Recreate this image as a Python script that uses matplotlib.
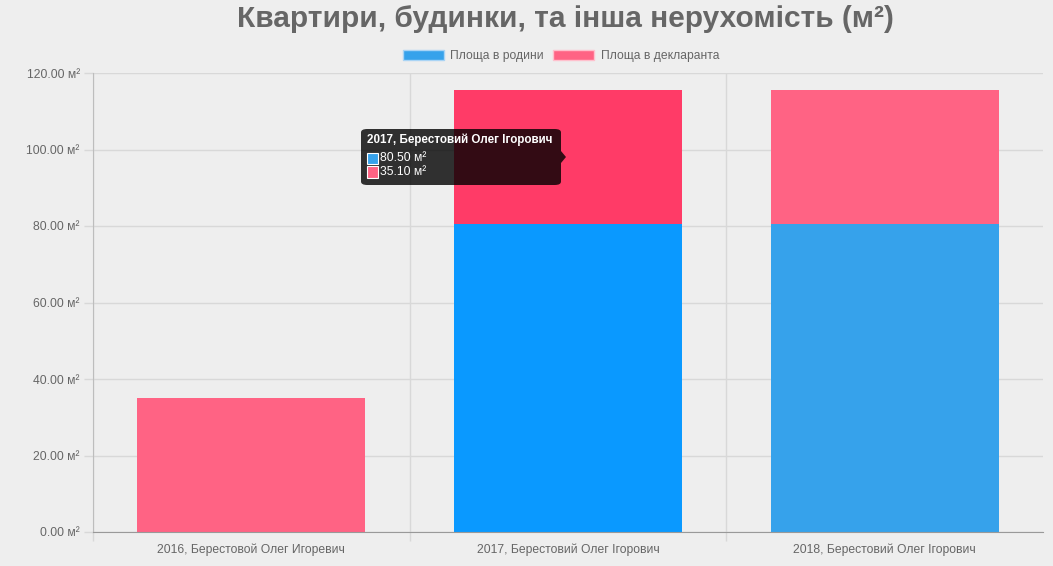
import matplotlib
matplotlib.use("Agg")
import matplotlib.pyplot as plt
from matplotlib.patches import Rectangle, FancyBboxPatch, Polygon

categories = ["2016, Берестовой Олег Игоревич",
              "2017, Берестовий Олег Ігорович",
              "2018, Берестовий Олег Ігорович"]
family_area = [0.0, 80.5, 80.5]
declarant_area = [35.1, 35.1, 35.1]
series_names = ["Площа в родини", "Площа в декларанта"]
y_ticks = [0, 20, 40, 60, 80, 100, 120]
title = "Квартири, будинки, та інша нерухомість (м²)"
hover_index = 1

BG = "#eeeeee"
BLUE = "#36a2eb"
PINK = "#ff6384"
BLUE_H = "#0a99ff"
PINK_H = "#ff3b67"
GRID = "#d8d8d8"
TXT = "#666666"

plt.rcParams['font.family'] = ['Liberation Sans', 'DejaVu Sans']

W, H = 1053, 566
fig = plt.figure(figsize=(W / 100, H / 100), dpi=100, facecolor=BG)
ax = fig.add_axes([93 / W, (H - 532) / H, 950 / W, 459 / H], facecolor=BG)

x = list(range(len(categories)))
blue_cols = [BLUE_H if i == hover_index else BLUE for i in x]
pink_cols = [PINK_H if i == hover_index else PINK for i in x]
ax.bar(x, family_area, width=0.72, color=blue_cols, zorder=3)
ax.bar(x, declarant_area, bottom=family_area, width=0.72, color=pink_cols, zorder=3)

ax.set_xlim(-0.5, len(categories) - 0.5)
ax.set_ylim(y_ticks[0], y_ticks[-1])
ax.set_yticks(y_ticks)
ax.set_yticklabels([f"{v:.2f} м²" for v in y_ticks], fontsize=8.7, color=TXT)
ax.set_xticks(x)
ax.set_xticklabels(categories, fontsize=8.7, color=TXT)
ax.set_xticks([i + 0.5 for i in x[:-1]] + [-0.5], minor=True)

ax.tick_params(axis='x', which='major', length=0, pad=8)
ax.tick_params(axis='x', which='minor', length=6.5, color=GRID, width=1)
ax.tick_params(axis='y', length=6.5, color=GRID, width=1, pad=3)
ax.grid(axis='y', color=GRID, linewidth=1, zorder=0)
ax.grid(axis='x', which='minor', color=GRID, linewidth=1, zorder=0)

for s in ['top', 'right']:
    ax.spines[s].set_visible(False)
ax.spines['left'].set_color("#bdbdbd")
ax.spines['bottom'].set_color("#999999")
ax.spines['left'].set_zorder(4)
ax.spines['bottom'].set_zorder(4)

# title
fig.text(565 / W, 1 - 19 / H, title, ha='center', va='center',
         fontsize=21.5, fontweight='bold', color=TXT)

# legend
handles = [Rectangle((0, 0), 1, 1, facecolor=BLUE, edgecolor="#a9d4f5", linewidth=1),
           Rectangle((0, 0), 1, 1, facecolor=PINK, edgecolor="#ffc0cd", linewidth=1)]
fig.legend(handles, series_names, loc='center', bbox_to_anchor=(561 / W, 1 - 56 / H),
           ncol=2, frameon=False, fontsize=8.7, labelcolor=TXT,
           handlelength=3.4, handleheight=0.9, handletextpad=0.5, columnspacing=0.8)

# tooltip
tx0, ty0, tw, th = 361, 129, 200, 56
box = FancyBboxPatch((tx0 / W, 1 - (ty0 + th) / H), tw / W, th / H,
                     boxstyle="round,pad=0,rounding_size=0.006",
                     transform=fig.transFigure, facecolor=(0, 0, 0, 0.8),
                     edgecolor='none', zorder=10)
fig.add_artist(box)
arrow = Polygon([((tx0 + tw) / W, 1 - 151 / H), ((tx0 + tw + 5) / W, 1 - 157 / H),
                 ((tx0 + tw) / W, 1 - 163 / H)], closed=True,
                transform=fig.transFigure, facecolor=(0, 0, 0, 0.8), edgecolor='none', zorder=10)
fig.add_artist(arrow)
fig.text((tx0 + 6) / W, 1 - 140 / H, categories[hover_index], fontsize=8.4,
         fontweight='bold', color='white', va='center', ha='left', zorder=11)
vals = [family_area[hover_index], declarant_area[hover_index]]
for k, (v, c) in enumerate(zip(vals, [BLUE, PINK])):
    yc = 158 + k * 14
    sq = Rectangle(((tx0 + 6) / W, 1 - (yc + 5.5) / H), 11 / W, 11 / H,
                   transform=fig.transFigure, facecolor=c, edgecolor='white',
                   linewidth=0.8, zorder=11)
    fig.add_artist(sq)
    fig.text((tx0 + 19) / W, 1 - yc / H, f"{v:.2f} м²", fontsize=8.7,
             color='white', va='center', ha='left', zorder=11)

fig.savefig("out.png", dpi=100, facecolor=BG)
